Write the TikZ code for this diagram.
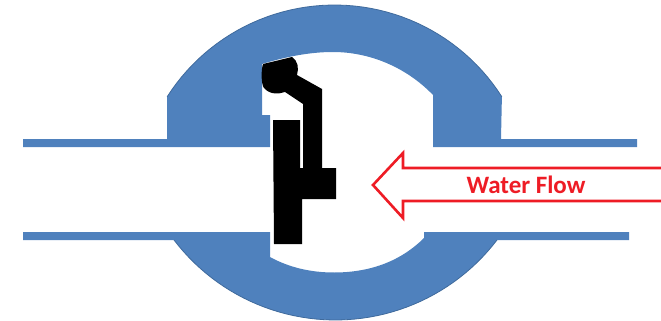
\documentclass[tikz,border=0pt]{standalone}
\usepackage{fontspec}
\setmainfont{Carlito}
\definecolor{valveblue}{HTML}{4F81BD}
\definecolor{valveedge}{HTML}{3F6A9C}
\definecolor{flowred}{HTML}{EE1C25}
\tikzset{
  bodyfill/.style={fill=valveblue,draw=none},
  rimline/.style={draw=valveedge,line width=0.8pt},
  discfill/.style={fill=black,draw=none},
  flowarrow/.style={draw=flowred,line width=2.6pt,fill=white,miter limit=10},
  flowtext/.style={text=flowred,font=\bfseries\fontsize{25}{27}\selectfont,inner sep=0pt}
}
\begin{document}
\begin{tikzpicture}[x=1pt,y=-1pt]
\useasboundingbox (0,0) rectangle (661,321);
% upper body and pipe wall
\path[bodyfill] (23,139) -- (167,139) -- (167,97)
  -- plot[domain=147.5:32.5,samples=50] ({334.5+198.5*cos(\x)},{203.5-198.5*sin(\x)})
  -- (501,139) -- (637,139) -- (637,147) -- (433,147) -- (433,95)
  .. controls (405,66) and (368,52) .. (333,52)
  .. controls (309,52) and (285,57) .. (262,64)
  -- (262,115) -- (270,115) -- (270,147) -- (23,147) -- cycle;
\draw[rimline] plot[domain=147.5:32.5,samples=50] ({334.5+198.5*cos(\x)},{203.5-198.5*sin(\x)});
% lower body and pipe wall
\path[bodyfill] (23,232) -- (270,232) -- (270,257)
  .. controls (290,268) and (312,272.5) .. (334,272.5)
  .. controls (372,272.5) and (402,260) .. (424,238)
  -- (424,232) -- (629,232) -- (629,240) -- (497,240)
  -- plot[domain=-37.3:-142.7,samples=50] ({335.5+203*cos(\x)},{117-203*sin(\x)})
  -- (174,240) -- (23,240) -- cycle;
\draw[rimline] plot[domain=-37.3:-142.7,samples=50] ({335.5+203*cos(\x)},{117-203*sin(\x)});
% swing disc
\path[discfill] (273,120) -- (300,120) -- (300,168) -- (303,168) -- (303,104)
  -- (285,92) .. controls (279,94) and (270,95) .. (264,88)
  .. controls (261,84) and (261,70) .. (263,64)
  -- (292,57) .. controls (298,61) and (299,68) .. (297,75)
  -- (322,89) -- (322,168) -- (336,168) -- (336,199) -- (302,199)
  -- (302,244) -- (274,244) -- cycle;
% flow arrow
\path[flowarrow] (664,168) -- (403,168) -- (403,153) -- (373,185)
  -- (403,218) -- (403,201) -- (664,201);
\node[flowtext] (flowlabel) at (526,185) {Water Flow};
\end{tikzpicture}
\end{document}
